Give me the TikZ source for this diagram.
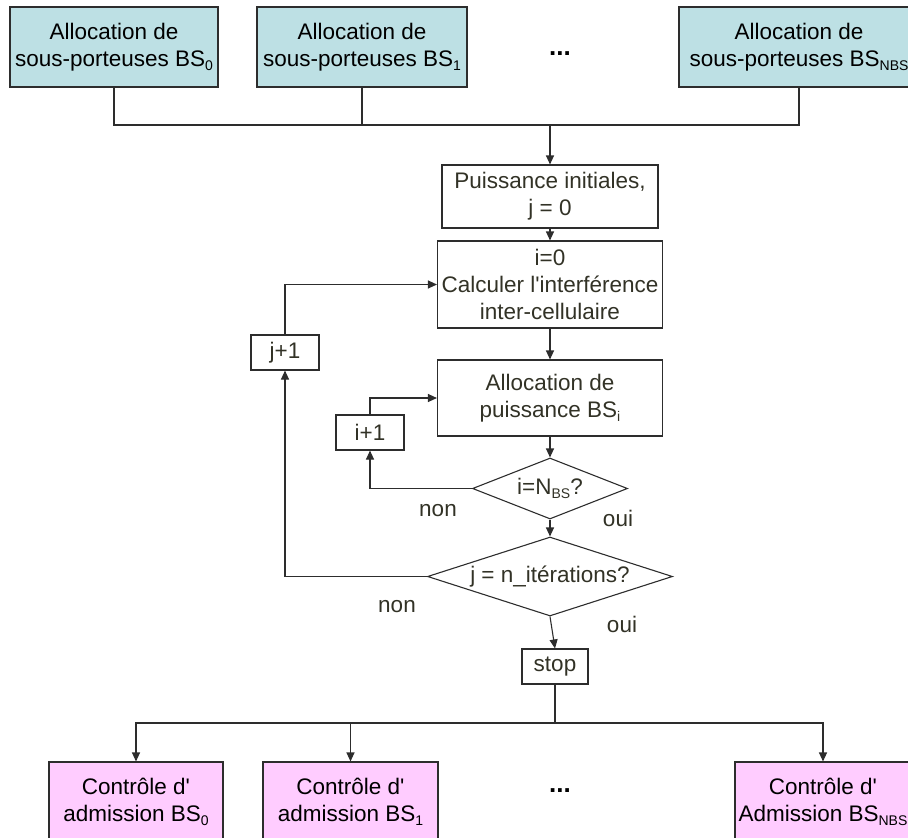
\documentclass[tikz,border=0pt]{standalone}
\usepackage{fontspec}
\setmainfont{Liberation Sans}
\usetikzlibrary{arrows.meta,shapes.geometric}

\definecolor{allocfill}{RGB}{189,224,228}
\definecolor{admfill}{RGB}{255,204,255}
\definecolor{edge}{RGB}{45,45,45}
\definecolor{ink}{RGB}{50,50,38}

% lowered index (BS_0, BS_NBS, ...)
\newcommand{\lowix}[1]{\raisebox{-0.35ex}{\fontsize{14}{14}\selectfont #1}}
\newcommand{\apos}{\textquotesingle}

\tikzset{
  txt/.style={font=\fontsize{22.5}{27}\selectfont, align=center},
  box/.style={txt, draw=edge, line width=1.1pt, inner sep=0pt},
  alloc/.style={box, fill=allocfill, text=black, minimum height=80pt},
  adm/.style={box, fill=admfill, text=black, minimum height=80pt},
  proc/.style={box, text=ink},
  small/.style={box, text=ink, minimum width=68pt, minimum height=35pt},
  test/.style={txt, text=ink, draw=edge, line width=1.1pt, diamond, inner sep=0pt},
  lab/.style={txt, text=ink},
  more/.style={font=\bfseries\fontsize{26}{27}\selectfont},
  wire/.style={draw=edge, line width=1.1pt},
  arr/.style={wire, -{Triangle[length=9pt,width=8pt]}},
}

\begin{document}
\begin{tikzpicture}[x=1pt, y=-1pt]
  \useasboundingbox (0,0) rectangle (908,838);
  \clip (0,0) rectangle (908,838);

  % subcarrier allocation per base station
  \node[alloc, minimum width=208pt] (a0) at (114,47) {Allocation de\\sous-porteuses BS\lowix{0}};
  \node[alloc, minimum width=210pt] (a1) at (362,47) {Allocation de\\sous-porteuses BS\lowix{1}};
  \node[alloc, minimum width=240pt] (aN) at (799,47) {Allocation de\\sous-porteuses BS\lowix{NBS}};
  \node[more] (dtop) at (560,54) {...};

  % power control loop
  \node[proc, minimum width=216pt, minimum height=63pt] (pw) at (550,196.5) {Puissance initiales,\\j = 0};
  \node[proc, minimum width=225pt, minimum height=87pt] (ic) at (550,284.5) {i=0\\Calculer l\apos interférence\\inter-cellulaire};
  \node[proc, minimum width=225pt, minimum height=76pt] (ap) at (550,398) {Allocation de\\puissance BS\lowix{i}};
  \node[test, minimum width=155pt, minimum height=61pt, aspect=2.5] (d1) at (550,488.5) {i=N\lowix{BS}?};
  \node[test, minimum width=245pt, minimum height=79pt, aspect=3.1] (d2) at (550,576.5) {j = n\_itérations?};
  \node[small] (jp) at (285,352.5) {j+1};
  \node[small] (ip) at (370,432.5) {i+1};
  \node[small, minimum width=66pt] (stop) at (555,666.5) {stop};

  \node[lab] (n1) at (438,511) {non};
  \node[lab] (o1) at (618,518) {oui};
  \node[lab] (n2) at (397,607) {non};
  \node[lab] (o2) at (622,624) {oui};

  % admission control per base station
  \node[adm, minimum width=174pt] (c0) at (136,802) {Contrôle d\apos\\admission BS\lowix{0}};
  \node[adm, minimum width=175pt] (c1) at (350.5,802) {Contrôle d\apos\\admission BS\lowix{1}};
  \node[adm, minimum width=176pt] (cN) at (823,802) {Contrôle d\apos\\Admission BS\lowix{NBS}};
  \node[more] (dbot) at (560,791) {...};

  % top collector
  \coordinate (bus) at (550,125);
  \draw[wire] (a0.south) |- (bus) -| (aN.south);
  \draw[wire] (a1.south) -- (a1.south |- bus);
  \draw[arr] (bus) -- (pw.north);

  % main chain
  \draw[arr] (pw.south) -- (ic.north);
  \draw[arr] (ic.south) -- (ap.north);
  \draw[arr] (ap.south) -- (d1.north);
  \draw[arr] (d1.south) -- (d2.north);
  \draw[arr] (d2.south) -- (stop.north);

  % inner loop on i
  \draw[arr] (d1.west) -| (ip.south);
  \draw[arr] (ip.north) |- (ap.west);

  % outer loop on j
  \draw[arr] (d2.west) -| (jp.south);
  \draw[arr] (jp.north) |- (ic.west);

  % bottom distributor
  \coordinate (split) at (555,723);
  \draw[wire] (stop.south) -- (split);
  \draw[arr] (split) -| (c0.north);
  \draw[arr] (split) -| (cN.north);
  \draw[arr] (c1.north |- split) -- (c1.north);
\end{tikzpicture}
\end{document}
